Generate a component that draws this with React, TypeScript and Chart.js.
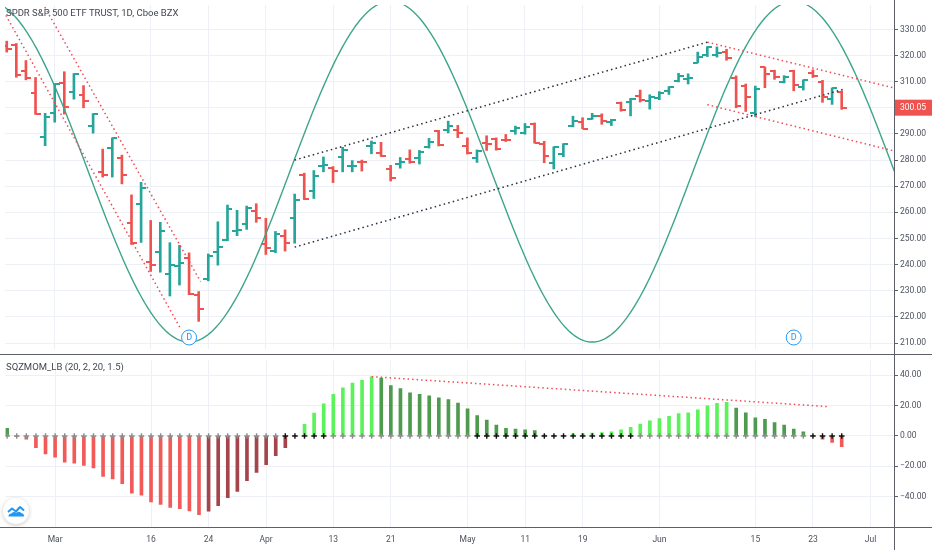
import React, { useEffect, useRef } from "react";
import { Chart, registerables } from "chart.js";

Chart.register(...registerables);

// ---------- DATA ----------
const tradingDays = [
  "2020-02-24", "2020-02-25", "2020-02-26", "2020-02-27", "2020-02-28",
  "2020-03-02", "2020-03-03", "2020-03-04", "2020-03-05", "2020-03-06",
  "2020-03-09", "2020-03-10", "2020-03-11", "2020-03-12", "2020-03-13",
  "2020-03-16", "2020-03-17", "2020-03-18", "2020-03-19", "2020-03-20",
  "2020-03-23", "2020-03-24", "2020-03-25", "2020-03-26", "2020-03-27",
  "2020-03-30", "2020-03-31", "2020-04-01", "2020-04-02", "2020-04-03",
  "2020-04-06", "2020-04-07", "2020-04-08", "2020-04-09", "2020-04-13",
  "2020-04-14", "2020-04-15", "2020-04-16", "2020-04-17", "2020-04-20",
  "2020-04-21", "2020-04-22", "2020-04-23", "2020-04-24", "2020-04-27",
  "2020-04-28", "2020-04-29", "2020-04-30", "2020-05-01", "2020-05-04",
  "2020-05-05", "2020-05-06", "2020-05-07", "2020-05-08", "2020-05-11",
  "2020-05-12", "2020-05-13", "2020-05-14", "2020-05-15", "2020-05-18",
  "2020-05-19", "2020-05-20", "2020-05-21", "2020-05-22", "2020-05-26",
  "2020-05-27", "2020-05-28", "2020-05-29", "2020-06-01", "2020-06-02",
  "2020-06-03", "2020-06-04", "2020-06-05", "2020-06-08", "2020-06-09",
  "2020-06-10", "2020-06-11", "2020-06-12", "2020-06-15", "2020-06-16",
  "2020-06-17", "2020-06-18", "2020-06-19", "2020-06-22", "2020-06-23",
  "2020-06-24", "2020-06-25", "2020-06-26",
];

const opens = [
  323.6, 323.9, 314.2, 305.5, 288.7, 298.2, 309.5, 306.1, 305.0, 293.2,
  275.3, 284.6, 280.7, 255.9, 263.1, 241.2, 245.0, 236.3, 239.3, 242.5,
  228.2, 234.4, 244.9, 249.5, 252.8, 255.7, 260.6, 248.0, 245.2, 250.8,
  257.8, 274.2, 268.0, 277.6, 277.1, 281.0, 277.6, 279.2, 285.4, 282.6,
  276.7, 278.4, 280.5, 280.7, 285.1, 291.0, 291.5, 291.7, 285.3, 280.7,
  286.6, 288.0, 287.8, 291.1, 290.3, 293.8, 286.1, 279.0, 282.4, 293.1,
  294.4, 295.8, 296.8, 294.6, 301.9, 302.1, 304.7, 302.5, 303.6, 306.6,
  310.2, 311.1, 317.2, 320.2, 320.3, 321.4, 311.5, 308.2, 298.0, 315.5,
  314.1, 310.0, 314.2, 308.0, 313.5, 309.8, 303.5, 306.2,
];
const highs = [
  325.5, 324.6, 318.1, 311.6, 297.9, 309.2, 313.8, 313.1, 308.5, 297.8,
  284.2, 288.5, 281.9, 266.7, 271.5, 256.9, 256.2, 248.4, 247.4, 244.5,
  229.7, 244.1, 256.4, 262.8, 260.8, 262.4, 263.3, 257.7, 252.7, 253.3,
  267.0, 275.0, 276.0, 281.2, 277.5, 284.9, 279.8, 280.0, 287.3, 286.8,
  278.0, 281.0, 283.9, 283.7, 288.3, 291.4, 294.9, 293.3, 288.5, 283.9,
  289.3, 288.5, 289.8, 293.0, 294.0, 294.2, 287.2, 285.1, 286.3, 296.8,
  296.2, 297.9, 297.7, 295.6, 302.2, 303.6, 306.8, 305.0, 306.2, 308.1,
  313.2, 313.0, 321.3, 323.4, 323.3, 322.4, 312.2, 309.1, 308.3, 315.6,
  314.4, 312.3, 314.4, 310.7, 314.5, 310.5, 307.6, 306.4,
];
const lows = [
  321.3, 311.7, 310.7, 297.5, 285.5, 294.5, 297.6, 303.3, 300.0, 290.3,
  273.5, 273.5, 270.9, 247.7, 248.5, 237.4, 237.1, 228.0, 232.2, 228.5,
  218.3, 233.8, 239.8, 249.1, 251.1, 253.5, 256.2, 243.9, 244.6, 245.2,
  248.2, 264.9, 265.3, 275.5, 271.4, 275.5, 275.5, 275.8, 282.4, 281.4,
  272.0, 276.9, 278.8, 278.5, 284.6, 285.4, 290.4, 288.6, 282.3, 279.1,
  283.7, 283.8, 287.1, 289.9, 289.9, 286.5, 279.0, 276.6, 281.3, 292.7,
  292.0, 295.6, 293.7, 293.2, 298.7, 296.9, 302.2, 299.5, 303.1, 305.1,
  309.9, 309.1, 317.2, 319.6, 319.4, 318.2, 300.0, 298.6, 296.7, 307.7,
  310.9, 309.5, 306.5, 306.8, 311.6, 302.1, 301.3, 299.4,
];
const closes = [
  322.4, 312.7, 311.5, 297.5, 296.3, 309.1, 300.2, 312.9, 302.5, 297.5,
  274.2, 288.4, 274.4, 248.1, 269.3, 239.9, 252.8, 240.0, 240.5, 228.8,
  223.0, 243.2, 246.8, 261.2, 253.4, 261.7, 257.8, 246.2, 251.8, 248.2,
  264.9, 265.1, 274.0, 278.2, 275.7, 283.8, 277.8, 279.1, 286.6, 281.6,
  273.0, 279.1, 279.1, 283.0, 287.1, 285.7, 293.2, 290.5, 282.8, 283.6,
  286.2, 284.3, 287.7, 292.4, 292.5, 286.7, 281.6, 285.0, 286.3, 295.0,
  292.0, 296.9, 294.9, 295.4, 299.1, 303.5, 303.0, 304.3, 305.6, 308.1,
  312.2, 311.4, 319.3, 323.2, 320.8, 319.0, 300.6, 304.2, 307.1, 313.0,
  311.7, 311.8, 308.6, 310.6, 312.1, 304.1, 307.4, 300.05,
];

// SQZMOM_LB momentum histogram values
const momentum = [
  5.0, -0.4, -2.1, -7.7, -11.9, -14.0, -17.2, -17.9, -19.4, -21.1,
  -26.6, -28.3, -31.5, -37.7, -39.0, -43.4, -45.1, -47.1, -47.9, -49.4,
  -51.9, -49.6, -46.0, -40.7, -36.6, -29.4, -24.1, -19.0, -13.0, -7.7,
  0.3, 7.6, 15.1, 21.1, 27.5, 31.7, 34.9, 36.6, 39.0, 38.1,
  33.2, 31.3, 28.5, 27.5, 26.4, 25.1, 24.0, 21.7, 17.9, 13.4,
  10.4, 7.2, 5.1, 4.5, 4.0, 3.6, 0.6, 0.4, 0.3, 1.2,
  1.6, 1.9, 2.2, 2.8, 4.0, 5.7, 7.9, 10.0, 11.5, 13.0,
  14.7, 15.3, 17.2, 19.8, 21.5, 22.2, 18.3, 15.3, 11.9, 10.9,
  8.9, 7.2, 4.5, 2.8, 0.3, -2.1, -4.3, -7.0,
];
// 1 = squeeze on (black cross), 0 = squeeze off (gray cross)
const squeezeOn = [
  0, 0, 0, 0, 0, 0, 0, 0, 0, 0,
  0, 0, 0, 0, 0, 0, 0, 0, 0, 0,
  0, 0, 0, 0, 0, 0, 0, 0, 0, 1,
  1, 1, 1, 1, 0, 0, 0, 0, 0, 0,
  0, 0, 0, 0, 0, 0, 0, 0, 0, 1,
  1, 1, 1, 1, 1, 1, 1, 1, 1, 1,
  1, 1, 1, 1, 1, 1, 0, 0, 0, 0,
  0, 0, 0, 0, 0, 0, 0, 0, 0, 0,
  0, 0, 0, 0, 1, 1, 1, 1,
];

const dividendIdx = [19, 82];

// time axis ticks (trading-day index -> label)
const timeTickIdx = [5, 15, 21, 27, 34, 40, 48, 54, 60, 68, 78, 84, 90];
const timeTickLabels = ["Mar", "16", "24", "Apr", "13", "21", "May", "11", "19", "Jun", "15", "23", "Jul"];

const priceTicks = [210, 220, 230, 240, 250, 260, 270, 280, 290, 300, 310, 320, 330];
const momTicks = [-40, -20, 0, 20, 40];

// drawings: [index, value] anchor pairs
const redChannelA = [[-1, 341.4], [18.13, 215.4]];
const redChannelB = [[3.5, 341.5], [20.2, 233.5]];
const blackUpper = [[30, 280.0], [73, 325.1]];
const blackLower = [[30, 246.7], [87.2, 307.1]];
const redUpperRight = [[73, 325.1], [93, 307.1]];
const redLowerRight = [[73, 301.2], [93, 283.0]];
const momTrend = [[38, 39.1], [85.7, 19.3]];

// sine-line drawing anchors (trough and next peak)
const sineTrough = [19, 210.4];
const sinePeak = [40, 340.8];

// axis ranges
const X_MIN = -0.181;
const X_MAX = 92.45;
const P_MIN = 207.73;
const P_MAX = 339.33;
const M_MIN = -60;
const M_MAX = 49.8;

// ---------- STYLE ----------
const GRID = "#edf0f5";
const AXIS = "#5d606b";
const TEXT = "#4c525e";
const UP = "#26a69a";
const DOWN = "#ef5350";
const SINE = "#3da58a";
const RED_DOT = "#ef4b55";
const BLACK_DOT = "#2a2e39";
const LIME = "#5cf25c";
const GREEN = "#4e9a4e";
const RED = "#f25a5a";
const MAROON = "#a4454c";
const FONT = "Roboto, 'Noto Sans', sans-serif";

function tickImage(color: string, side: "l" | "r") {
  const c = document.createElement("canvas");
  c.width = 10;
  c.height = 2;
  const g = c.getContext("2d")!;
  g.fillStyle = color;
  if (side === "l") g.fillRect(0, 0, 5, 2);
  else g.fillRect(5, 0, 5, 2);
  return c;
}

function seg(pts: number[][], color: string, dash: number[]) {
  return {
    type: "line" as const,
    data: pts.map((p) => ({ x: p[0], y: p[1] })),
    borderColor: color,
    borderWidth: 1.5,
    borderDash: dash,
    pointRadius: 0,
    fill: false,
    order: 0,
  };
}

export default function App() {
  const mainRef = useRef<HTMLCanvasElement>(null);
  const momRef = useRef<HTMLCanvasElement>(null);

  useEffect(() => {
    if (!mainRef.current || !momRef.current) return;
    const n = closes.length;
    const isUp = closes.map((c, i) => c >= opens[i]);
    const barColors = isUp.map((u) => (u ? UP : DOWN));
    const openUp = tickImage(UP, "l");
    const openDn = tickImage(DOWN, "l");
    const closeUp = tickImage(UP, "r");
    const closeDn = tickImage(DOWN, "r");

    // sine drawing through its two anchors
    const half = sinePeak[0] - sineTrough[0];
    const mid = (sinePeak[1] + sineTrough[1]) / 2;
    const amp = (sinePeak[1] - sineTrough[1]) / 2;
    const sinePts: { x: number; y: number }[] = [];
    for (let k = 0; k <= 470; k++) {
      const x = -1 + k * 0.2;
      sinePts.push({ x, y: mid - amp * Math.cos((Math.PI * (x - sineTrough[0])) / half) });
    }

    const xTicks = (s: any) => {
      s.ticks = timeTickIdx.map((v) => ({ value: v }));
    };

    const mainDecor = {
      id: "mainDecor",
      afterDatasetsDraw(chart: any) {
        const { ctx, chartArea, scales } = chart;
        ctx.save();
        dividendIdx.forEach((i) => {
          const x = scales.x.getPixelForValue(i);
          const y = chartArea.bottom - 11.5;
          ctx.beginPath();
          ctx.arc(x, y, 7.5, 0, Math.PI * 2);
          ctx.fillStyle = "#ffffff";
          ctx.fill();
          ctx.lineWidth = 1;
          ctx.strokeStyle = "#2196f3";
          ctx.stroke();
          ctx.fillStyle = "#2196f3";
          ctx.font = `9px ${FONT}`;
          ctx.textAlign = "center";
          ctx.textBaseline = "middle";
          ctx.fillText("D", x, y + 0.5);
        });
        ctx.restore();
      },
      afterDraw(chart: any) {
        const { ctx, chartArea, scales } = chart;
        const last = closes[n - 1];
        const y = scales.y.getPixelForValue(last);
        ctx.save();
        ctx.fillStyle = isUp[n - 1] ? UP : DOWN;
        ctx.fillRect(chartArea.right + 1, y - 8, 40, 16);
        ctx.fillStyle = "#ffffff";
        ctx.font = `8.5px ${FONT}`;
        ctx.textAlign = "left";
        ctx.textBaseline = "middle";
        ctx.fillText(last.toFixed(2), chartArea.right + 6, y + 0.5);
        ctx.restore();
      },
    };

    const main = new Chart(mainRef.current, {
      type: "bar",
      data: {
        labels: tradingDays,
        datasets: [
          seg(redChannelA, RED_DOT, [1.5, 3]),
          seg(redChannelB, RED_DOT, [1.5, 3]),
          seg(blackUpper, BLACK_DOT, [1.5, 3.2]),
          seg(blackLower, BLACK_DOT, [1.5, 3.2]),
          seg(redUpperRight, RED_DOT, [1.5, 3]),
          seg(redLowerRight, RED_DOT, [1.5, 3]),
          {
            type: "line",
            data: sinePts,
            borderColor: SINE,
            borderWidth: 1.4,
            pointRadius: 0,
            tension: 0,
            fill: false,
            order: 1,
          } as any,
          {
            type: "scatter",
            data: opens.map((o, i) => ({ x: i, y: o })),
            pointStyle: isUp.map((u) => (u ? openUp : openDn)),
            pointRadius: 3,
            order: 2,
          } as any,
          {
            type: "scatter",
            data: closes.map((c, i) => ({ x: i, y: c })),
            pointStyle: isUp.map((u) => (u ? closeUp : closeDn)),
            pointRadius: 3,
            order: 2,
          } as any,
          {
            type: "bar",
            data: highs.map((h, i) => ({ x: i, y: [lows[i], h] })),
            backgroundColor: barColors,
            borderWidth: 0,
            barThickness: 2,
            order: 3,
          } as any,
        ],
      },
      options: {
        animation: false,
        responsive: false,
        maintainAspectRatio: false,
        events: [],
        layout: { padding: 0 },
        plugins: { legend: { display: false }, tooltip: { enabled: false }, title: { display: false } },
        scales: {
          x: {
            type: "linear",
            min: X_MIN,
            max: X_MAX,
            offset: false,
            bounds: "data",
            afterBuildTicks: xTicks,
            afterFit: (s: any) => {
              s.height = 0;
              s.paddingLeft = 0;
              s.paddingRight = 0;
            },
            grid: { color: GRID, drawTicks: false, offset: false },
            border: { display: false },
            ticks: { display: false },
          },
          y: {
            type: "linear",
            position: "right",
            min: P_MIN,
            max: P_MAX,
            bounds: "data",
            afterBuildTicks: (s: any) => {
              s.ticks = priceTicks.map((v) => ({ value: v }));
            },
            afterFit: (s: any) => {
              s.width = 38;
              s.paddingTop = 0;
              s.paddingBottom = 0;
            },
            grid: { color: GRID, drawTicks: true, tickLength: 4, tickColor: AXIS, tickWidth: 1 },
            border: { display: false },
            ticks: {
              callback: (v: any) => Number(v).toFixed(2),
              font: { family: FONT, size: 8.5 },
              color: TEXT,
              padding: 2,
              autoSkip: false,
            },
          },
        } as any,
      },
      plugins: [mainDecor],
    } as any);

    const momColors = momentum.map((v, i) => {
      const p = i > 0 ? momentum[i - 1] : v;
      if (v > 0) return v > p ? LIME : GREEN;
      return v < p ? RED : MAROON;
    });

    const mom = new Chart(momRef.current, {
      type: "bar",
      data: {
        labels: tradingDays,
        datasets: [
          seg(momTrend, RED_DOT, [1.5, 3]),
          {
            type: "scatter",
            data: momentum.map((_, i) => ({ x: i, y: 0 })),
            pointStyle: "cross",
            pointRadius: 2.8,
            pointBorderWidth: 1.4,
            pointBorderColor: squeezeOn.map((s) => (s ? "#111111" : "#8c8c8c")),
            order: 1,
          } as any,
          {
            type: "bar",
            data: momentum.map((v, i) => ({ x: i, y: v })),
            backgroundColor: momColors,
            borderWidth: 0,
            barThickness: 3,
            order: 2,
          } as any,
        ],
      },
      options: {
        animation: false,
        responsive: false,
        maintainAspectRatio: false,
        events: [],
        layout: { padding: 0 },
        plugins: { legend: { display: false }, tooltip: { enabled: false }, title: { display: false } },
        scales: {
          x: {
            type: "linear",
            min: X_MIN,
            max: X_MAX,
            offset: false,
            bounds: "data",
            afterBuildTicks: xTicks,
            afterFit: (s: any) => {
              s.height = 23;
              s.paddingLeft = 0;
              s.paddingRight = 0;
            },
            grid: { color: GRID, drawTicks: false, offset: false },
            border: { display: false },
            ticks: {
              callback: (v: any) => {
                const k = timeTickIdx.indexOf(Number(v));
                return k >= 0 ? timeTickLabels[k] : "";
              },
              font: { family: FONT, size: 8.5 },
              color: TEXT,
              padding: 8,
              maxRotation: 0,
              autoSkip: false,
            },
          },
          y: {
            type: "linear",
            position: "right",
            min: M_MIN,
            max: M_MAX,
            bounds: "data",
            afterBuildTicks: (s: any) => {
              s.ticks = momTicks.map((v) => ({ value: v }));
            },
            afterFit: (s: any) => {
              s.width = 38;
              s.paddingTop = 0;
              s.paddingBottom = 0;
            },
            grid: { color: GRID, drawTicks: true, tickLength: 4, tickColor: AXIS, tickWidth: 1 },
            border: { display: false },
            ticks: {
              callback: (v: any) => {
                const num = Number(v);
                return (num < 0 ? "\u2212" : "") + Math.abs(num).toFixed(2);
              },
              font: { family: FONT, size: 8.5 },
              color: TEXT,
              padding: 2,
              autoSkip: false,
            },
          },
        } as any,
      },
    } as any);

    return () => {
      main.destroy();
      mom.destroy();
    };
  }, []);

  return (
    <div
      style={{
        position: "fixed",
        left: 0,
        top: 0,
        width: 932,
        height: 550,
        background: "#ffffff",
        overflow: "hidden",
        fontFamily: FONT,
      }}
    >
      <canvas
        ref={mainRef}
        width={932}
        height={354}
        style={{ position: "absolute", left: 0, top: 0, display: "block" }}
      />
      <canvas
        ref={momRef}
        width={932}
        height={195}
        style={{ position: "absolute", left: 0, top: 355, display: "block" }}
      />
      {/* pane frame lines */}
      <div style={{ position: "absolute", left: 0, top: 354, width: 932, height: 1, background: AXIS }} />
      <div style={{ position: "absolute", left: 0, top: 527, width: 932, height: 1, background: AXIS }} />
      <div style={{ position: "absolute", left: 894, top: 0, width: 1, height: 550, background: AXIS }} />
      {/* legends */}
      <div
        style={{
          position: "absolute",
          left: 6,
          top: 6,
          fontSize: 9.5,
          lineHeight: "14px",
          color: "#434651",
          whiteSpace: "nowrap",
        }}
      >
        SPDR S&amp;P 500 ETF TRUST, 1D, Cboe BZX
      </div>
      <div
        style={{
          position: "absolute",
          left: 6,
          top: 360,
          fontSize: 9.5,
          lineHeight: "14px",
          color: "#434651",
          whiteSpace: "nowrap",
        }}
      >
        SQZMOM_LB (20, 2, 20, 1.5)
      </div>
      {/* TradingView badge */}
      <div
        style={{
          position: "absolute",
          left: 3,
          top: 498,
          width: 26,
          height: 26,
          borderRadius: 13,
          background: "#ffffff",
          boxShadow: "0 1px 4px rgba(0,0,0,0.22)",
          display: "flex",
          alignItems: "center",
          justifyContent: "center",
        }}
      >
        <svg width="18" height="12" viewBox="0 0 18 12">
          <path d="M1 7 L5 3.5 L9 6.5 L13 2 L17 5.5" stroke="#2196f3" strokeWidth="2" fill="none" strokeLinejoin="round" />
          <path d="M1.5 11.5 Q1.5 8.5 4.5 8.5 Q6.5 6 9.5 7.8 Q12.5 5.5 14.5 8.3 Q17 8.3 17 11.5 Z" fill="#2196f3" />
        </svg>
      </div>
    </div>
  );
}
